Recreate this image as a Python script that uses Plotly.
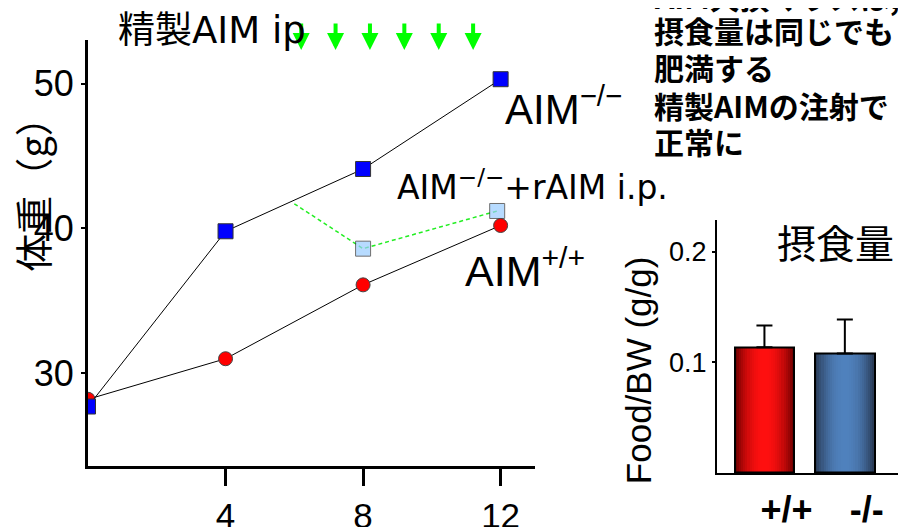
import plotly.graph_objects as go

# ---------------- data ----------------
weeks = [0, 4, 8, 12]
ko_weight = [27.7, 39.8, 44.1, 50.3]        # AIM-/-
wt_weight = [28.2, 31.0, 36.1, 40.2]        # AIM+/+
rescue_weeks = [6, 8, 11.9]                 # AIM-/- + rAIM i.p.
rescue_weight = [41.7, 38.6, 41.2]
injection_weeks = [6.2, 7.2, 8.2, 9.2, 10.2, 11.2]

x_ticks = [4, 8, 12]
y_ticks = [30, 40, 50]

genotypes = ["+/+", "-/-"]
food_bw = [0.1135, 0.108]
food_bw_err = [0.0198, 0.0307]
bar_ticks = [0.1, 0.2]

W, H = 906, 527
# page offset compensation (page margin / capture scaling)
def px(x):
    return (x - 8) / W
def py(y):
    return 1 - ((y - 7.8) / 0.9705) / H

JP = "Noto Sans CJK JP"
LAT = "Liberation Sans, Arial, Noto Sans CJK JP"
WIDE = "DejaVu Sans, Liberation Sans, Noto Sans CJK JP"

fig = go.Figure()

# ---------------- weight curves ----------------
fig.add_trace(go.Scatter(
    x=rescue_weeks, y=rescue_weight, mode="lines+markers",
    line=dict(color="#22ee22", width=1.5, dash="4px,3px"),
    marker=dict(symbol="square", size=[0, 15, 15], color="#99ccff",
                line=dict(color="#333333", width=1)),
    showlegend=False, xaxis="x", yaxis="y"))
fig.add_trace(go.Scatter(
    x=weeks, y=wt_weight, mode="lines+markers",
    line=dict(color="black", width=1),
    marker=dict(symbol="circle", size=14, color="#ff0000",
                line=dict(color="#444444", width=1)),
    showlegend=False, xaxis="x", yaxis="y"))
fig.add_trace(go.Scatter(
    x=weeks, y=ko_weight, mode="lines+markers",
    line=dict(color="black", width=1),
    marker=dict(symbol="square", size=15, color="#0000ff",
                line=dict(color="#333333", width=1)),
    showlegend=False, xaxis="x", yaxis="y"))

# ---------------- food intake bars (horizontal gradient) ----------------
bar_w = 0.74
dark = [(0x70, 0x00, 0x00), (0x2a, 0x3c, 0x58)]
bright = [(0xff, 0x10, 0x10), (0x50, 0x82, 0xbe)]
N = 14
for k in range(N):
    d = 1 - k / N
    f = d ** 2.2
    cols = []
    for i in range(2):
        c = tuple(int(bright[i][j] + (dark[i][j] - bright[i][j]) * f) for j in range(3))
        cols.append("rgb(%d,%d,%d)" % c)
    fig.add_trace(go.Bar(
        x=[0, 1], y=food_bw, width=bar_w * d,
        marker=dict(color=cols, line=dict(width=0)),
        showlegend=False, xaxis="x2", yaxis="y2"))
fig.add_trace(go.Bar(
    x=[0, 1], y=food_bw, width=bar_w,
    marker=dict(color="rgba(0,0,0,0)", line=dict(color="black", width=2)),
    error_y=dict(type="data", symmetric=False, array=food_bw_err,
                 arrayminus=[0, 0], color="black", thickness=2, width=8),
    showlegend=False, xaxis="x2", yaxis="y2"))

fig.update_layout(
    width=W, height=H, margin=dict(l=0, r=0, t=0, b=0),
    paper_bgcolor="white", plot_bgcolor="white",
    barmode="overlay", bargap=0,
    xaxis=dict(domain=[px(88), px(535)], range=[0, 13],
               showline=True, linecolor="black", linewidth=3,
               ticks="outside", ticklen=17, tickwidth=3, tickcolor="black",
               ticklabelstandoff=0,
               tickvals=x_ticks, tickfont=dict(family=LAT, size=35, color="black"),
               showgrid=False, zeroline=False),
    yaxis=dict(domain=[py(467), py(40)], range=[23.6, 53.0],
               showline=True, linecolor="black", linewidth=3,
               ticks="outside", ticklen=4, tickwidth=2, tickcolor="black",
               tickvals=y_ticks, tickfont=dict(family=LAT, size=36, color="black"),
               showgrid=False, zeroline=False),
    xaxis2=dict(domain=[px(717), 1.0], range=[-0.59, 1.86], anchor="y2",
                showline=True, linecolor="black", linewidth=2,
                ticks="", tickvals=[0, 1], ticktext=genotypes,
                ticklabelshift=22, ticklabelstandoff=4,
                tickfont=dict(family=LAT, size=36, color="black", weight="bold"),
                showgrid=False, zeroline=False),
    yaxis2=dict(domain=[py(474), py(220)], range=[0, 0.229], anchor="x2",
                showline=True, linecolor="black", linewidth=2,
                ticks="outside", ticklen=3, tickwidth=1.5, tickcolor="black",
                tickvals=bar_ticks, ticktext=["0.1", "0.2"],
                tickfont=dict(family=LAT, size=27, color="black"),
                showgrid=False, zeroline=False),
)

ann = []
# injection arrows
for wk in injection_weeks:
    ann.append(dict(x=wk, y=py(50), xref="x", yref="paper", ax=0, ay=-28,
                    axref="pixel", ayref="pixel", text="", showarrow=True,
                    arrowhead=2, arrowsize=0.85, arrowwidth=4, arrowcolor="#00ff00"))

def txt(t, x, y, size, family=LAT, xanchor="left", yanchor="middle", angle=0, weight="normal"):
    ann.append(dict(text=t, x=px(x), y=py(y), xref="paper", yref="paper",
                    xanchor=xanchor, yanchor=yanchor, showarrow=False, textangle=angle,
                    font=dict(family=family, size=size, color="black", weight=weight)))

txt("精製AIM ip", 116, 30, 37, family=WIDE)
txt("AIM<sup>−/−</sup>", 503, 106, 42)
txt("AIM<sup>−/−</sup>+rAIM i.p.", 395, 186, 33, family=WIDE)
txt("AIM<sup>+/+</sup>", 463, 269, 43)
txt("体重（g）", 32, 186, 38, family=JP, xanchor="center", angle=-90)
txt("摂食量", 835, 241, 39, family=JP, xanchor="center")
txt("Food/BW (g/g)", 638, 371, 35, xanchor="center", angle=-90)

notes = ["AIM欠損マウスは,", "摂食量は同じでも", "肥満する", "精製AIMの注射で", "正常に"]
note_y = [-4, 30, 67, 105, 141]
for t, yy in zip(notes, note_y):
    txt(t, 652, yy, 30, family=JP, weight="bold")

fig.update_layout(annotations=ann)
fig.write_html("out.html")
